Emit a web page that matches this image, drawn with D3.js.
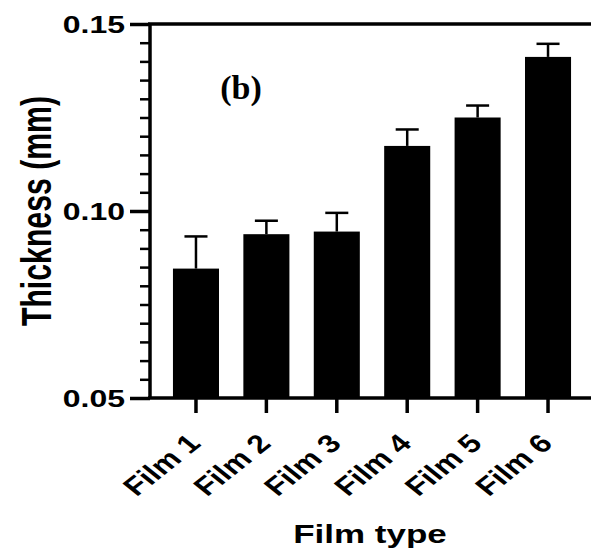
<!DOCTYPE html>
<html>
<head>
<meta charset="utf-8">
<script src="https://cdn.jsdelivr.net/npm/d3@7"></script>
<style>
  body { margin: 0; background: #fff; }
  text { font-family: "Liberation Sans", Arial, sans-serif; font-weight: bold; fill: #000; }
</style>
</head>
<body>
<script>
// chart data
var films = ["Film 1", "Film 2", "Film 3", "Film 4", "Film 5", "Film 6"];
var thickness = [0.0846, 0.0938, 0.0945, 0.1174, 0.1250, 0.1412];
var errors = [0.0086, 0.0036, 0.0050, 0.0044, 0.0032, 0.0035];
var yMajorTicks = [0.05, 0.10, 0.15];

var width = 591,
	height = 553;

// the source picture is squashed vertically, so text gets the same squash
var squash = 0.72;
var labelSquash = 0.8;

var svg = d3.select("body")
	.append("svg")
	.attr("width", width)
	.attr("height", height);

var x = d3.scaleBand()
	.domain(films)
	.range([150, 594])
	.paddingInner(0.346)
	.paddingOuter(0.326);

var y = d3.scaleLinear()
	.domain([0.05, 0.15])
	.range([398, 24]);

// minor ticks on y
var minor = svg.append("g")
	.attr("transform", "translate(150,0)")
	.call(d3.axisLeft(y).tickValues(y.ticks(20)).tickSize(10).tickSizeOuter(0).tickFormat(""));
minor.select(".domain").remove();
minor.selectAll("line").attr("stroke-width", 2.5);

// major ticks and labels on y
var yAxis = svg.append("g")
	.attr("transform", "translate(150,0)")
	.call(d3.axisLeft(y).tickValues(yMajorTicks).tickSize(20).tickSizeOuter(0).tickPadding(5).tickFormat(d3.format(".2f")));
yAxis.select(".domain").remove();
yAxis.selectAll("line").attr("stroke-width", 3.5);
yAxis.selectAll("text")
	.attr("font-size", 32)
	.attr("dy", "0.36em")
	.attr("transform", "scale(1," + squash + ")");

// bars
svg.selectAll(".bar")
	.data(thickness)
	.enter()
	.append("rect")
	.attr("class", "bar")
	.attr("x", function (d, i) { return x(films[i]); })
	.attr("width", x.bandwidth())
	.attr("y", function (d) { return y(d); })
	.attr("height", function (d) { return y(0.05) - y(d); })
	.attr("fill", "#000");

// error bars (upper only)
var err = svg.selectAll(".err")
	.data(thickness)
	.enter()
	.append("g")
	.attr("class", "err")
	.attr("stroke", "#000")
	.attr("stroke-width", 2.5);

err.append("line")
	.attr("x1", function (d, i) { return x(films[i]) + x.bandwidth() / 2; })
	.attr("x2", function (d, i) { return x(films[i]) + x.bandwidth() / 2; })
	.attr("y1", function (d) { return y(d); })
	.attr("y2", function (d, i) { return y(d + errors[i]); });

err.append("line")
	.attr("x1", function (d, i) { return x(films[i]) + x.bandwidth() / 4; })
	.attr("x2", function (d, i) { return x(films[i]) + x.bandwidth() * 3 / 4; })
	.attr("y1", function (d, i) { return y(d + errors[i]); })
	.attr("y2", function (d, i) { return y(d + errors[i]); });

// x axis
var xAxis = svg.append("g")
	.attr("transform", "translate(0," + y(0.05) + ")")
	.call(d3.axisBottom(x).tickSize(15).tickSizeOuter(0));
xAxis.select(".domain").remove();
xAxis.selectAll("line").attr("stroke-width", 3.5);
xAxis.selectAll("text")
	.attr("font-size", 32)
	.attr("text-anchor", "end")
	.attr("x", 0)
	.attr("y", 0)
	.attr("dy", 0)
	.attr("transform", "translate(6,47) scale(1," + labelSquash + ") rotate(-45)");

// frame lines: left, bottom and top
svg.append("line")
	.attr("x1", 150).attr("x2", 150)
	.attr("y1", y(0.15)).attr("y2", y(0.05))
	.attr("stroke", "#000").attr("stroke-width", 3.5);
svg.append("line")
	.attr("x1", 148).attr("x2", 591)
	.attr("y1", y(0.05)).attr("y2", y(0.05))
	.attr("stroke", "#000").attr("stroke-width", 3.5);
svg.append("line")
	.attr("x1", 148).attr("x2", 591)
	.attr("y1", y(0.15)).attr("y2", y(0.15))
	.attr("stroke", "#000").attr("stroke-width", 3.5);

// axis titles
svg.append("text")
	.attr("transform", "translate(51," + (y(0.10)) + ") scale(1," + squash + ") rotate(-90)")
	.attr("text-anchor", "middle")
	.attr("font-size", 42)
	.text("Thickness (mm)");

svg.append("text")
	.attr("transform", "translate(370,543) scale(1," + squash + ")")
	.attr("text-anchor", "middle")
	.attr("font-size", 35)
	.text("Film type");

// panel label
svg.append("text")
	.attr("x", 241)
	.attr("y", 99)
	.attr("text-anchor", "middle")
	.attr("font-size", 34)
	.style("font-family", "'Liberation Serif', 'Times New Roman', serif")
	.text("(b)");
</script>
</body>
</html>
